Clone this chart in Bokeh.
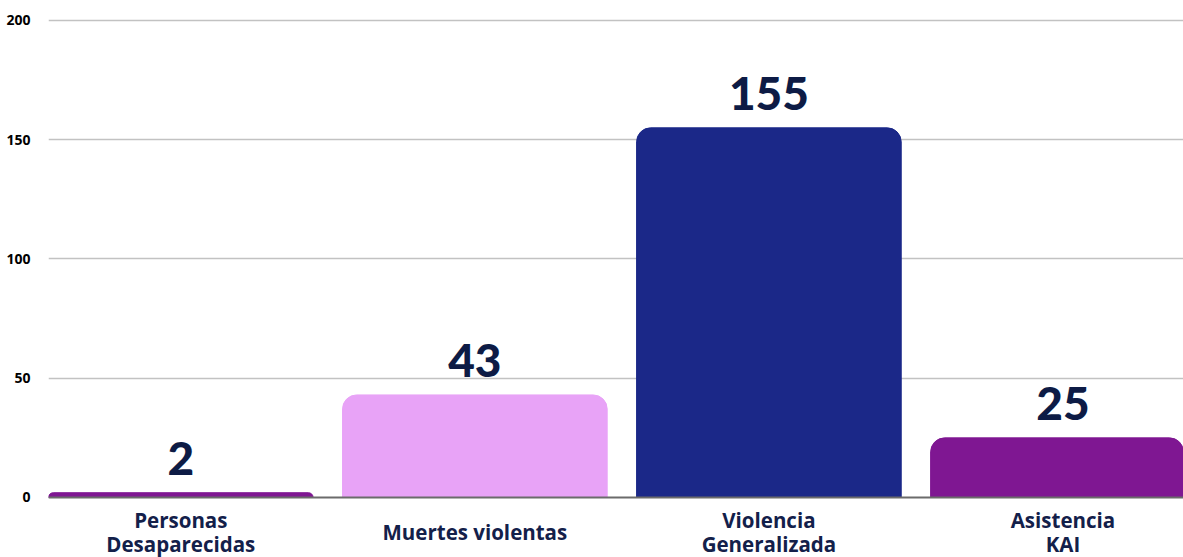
from bokeh.plotting import figure
from bokeh.models import ColumnDataSource, Range1d, FixedTicker, LabelSet, Span
from bokeh.core.properties import value
from bokeh.embed import file_html
from bokeh.resources import INLINE

categories = ["Personas\nDesaparecidas", "Muertes violentas", "Violencia\nGeneralizada", "Asistencia\nKAI"]
values = [2, 43, 155, 25]
colors = ["#7f1792", "#e8a3f7", "#1b2888", "#7f1792"]
y_ticks = [0, 50, 100, 150, 200]

xs = list(range(len(categories)))
parts = [c.split("\n") for c in categories]
line1 = [pp[0] if len(pp) == 2 else "" for pp in parts]
line2 = [pp[1] if len(pp) == 2 else "" for pp in parts]
single = [pp[0] if len(pp) == 1 else "" for pp in parts]

src = ColumnDataSource(dict(x=xs, top=values, color=colors, label=[str(v) for v in values],
                            l1=line1, l2=line2, s=single, zero=[0] * len(xs)))

p = figure(width=1183, height=557, output_backend="svg", toolbar_location=None,
           x_range=Range1d(-0.45, 3.41), y_range=Range1d(-25.16, 203.35),
           x_axis_location=None,
           min_border_left=48, min_border_right=0, min_border_top=12, min_border_bottom=0)
p.outline_line_color = None
p.background_fill_color = "white"
p.border_fill_color = "white"

p.vbar(x="x", top="top", bottom=0, width=0.9, color="color", source=src,
       border_radius=(14, 14, 0, 0))

p.add_layout(Span(location=0, dimension="width", line_color="#6b6b6b", line_width=2))

labels = LabelSet(x="x", y="top", text="label", source=src, text_align="center",
                  text_baseline="alphabetic", y_offset=18,
                  text_font=value("'Lato Black', 'Lato Heavy', Lato"),
                  text_font_style="bold", text_font_size="46px", text_color="#0d1b45")
p.add_layout(labels)

common = dict(x="x", y="zero", source=src, text_align="center", text_baseline="alphabetic",
              text_font=value("Open Sans"), text_font_style="bold",
              text_font_size="20.5px", text_color="#13204a")
p.add_layout(LabelSet(text="l1", y_offset=-31, **common))
p.add_layout(LabelSet(text="l2", y_offset=-55, **common))
p.add_layout(LabelSet(text="s", y_offset=-43, **common))

p.xgrid.grid_line_color = None
p.ygrid.grid_line_color = "#c2c2c2"
p.ygrid.grid_line_width = 1.5
p.ygrid.ticker = FixedTicker(ticks=y_ticks[1:])

p.yaxis.ticker = FixedTicker(ticks=y_ticks)
p.yaxis.axis_line_color = None
p.yaxis.major_tick_line_color = None
p.yaxis.minor_tick_line_color = None
p.yaxis.major_label_standoff = 12
p.yaxis.major_label_text_font = "Open Sans"
p.yaxis.major_label_text_font_style = "bold"
p.yaxis.major_label_text_font_size = "14px"
p.yaxis.major_label_text_color = "#000000"

open("out.html", "w").write(file_html(p, INLINE))
